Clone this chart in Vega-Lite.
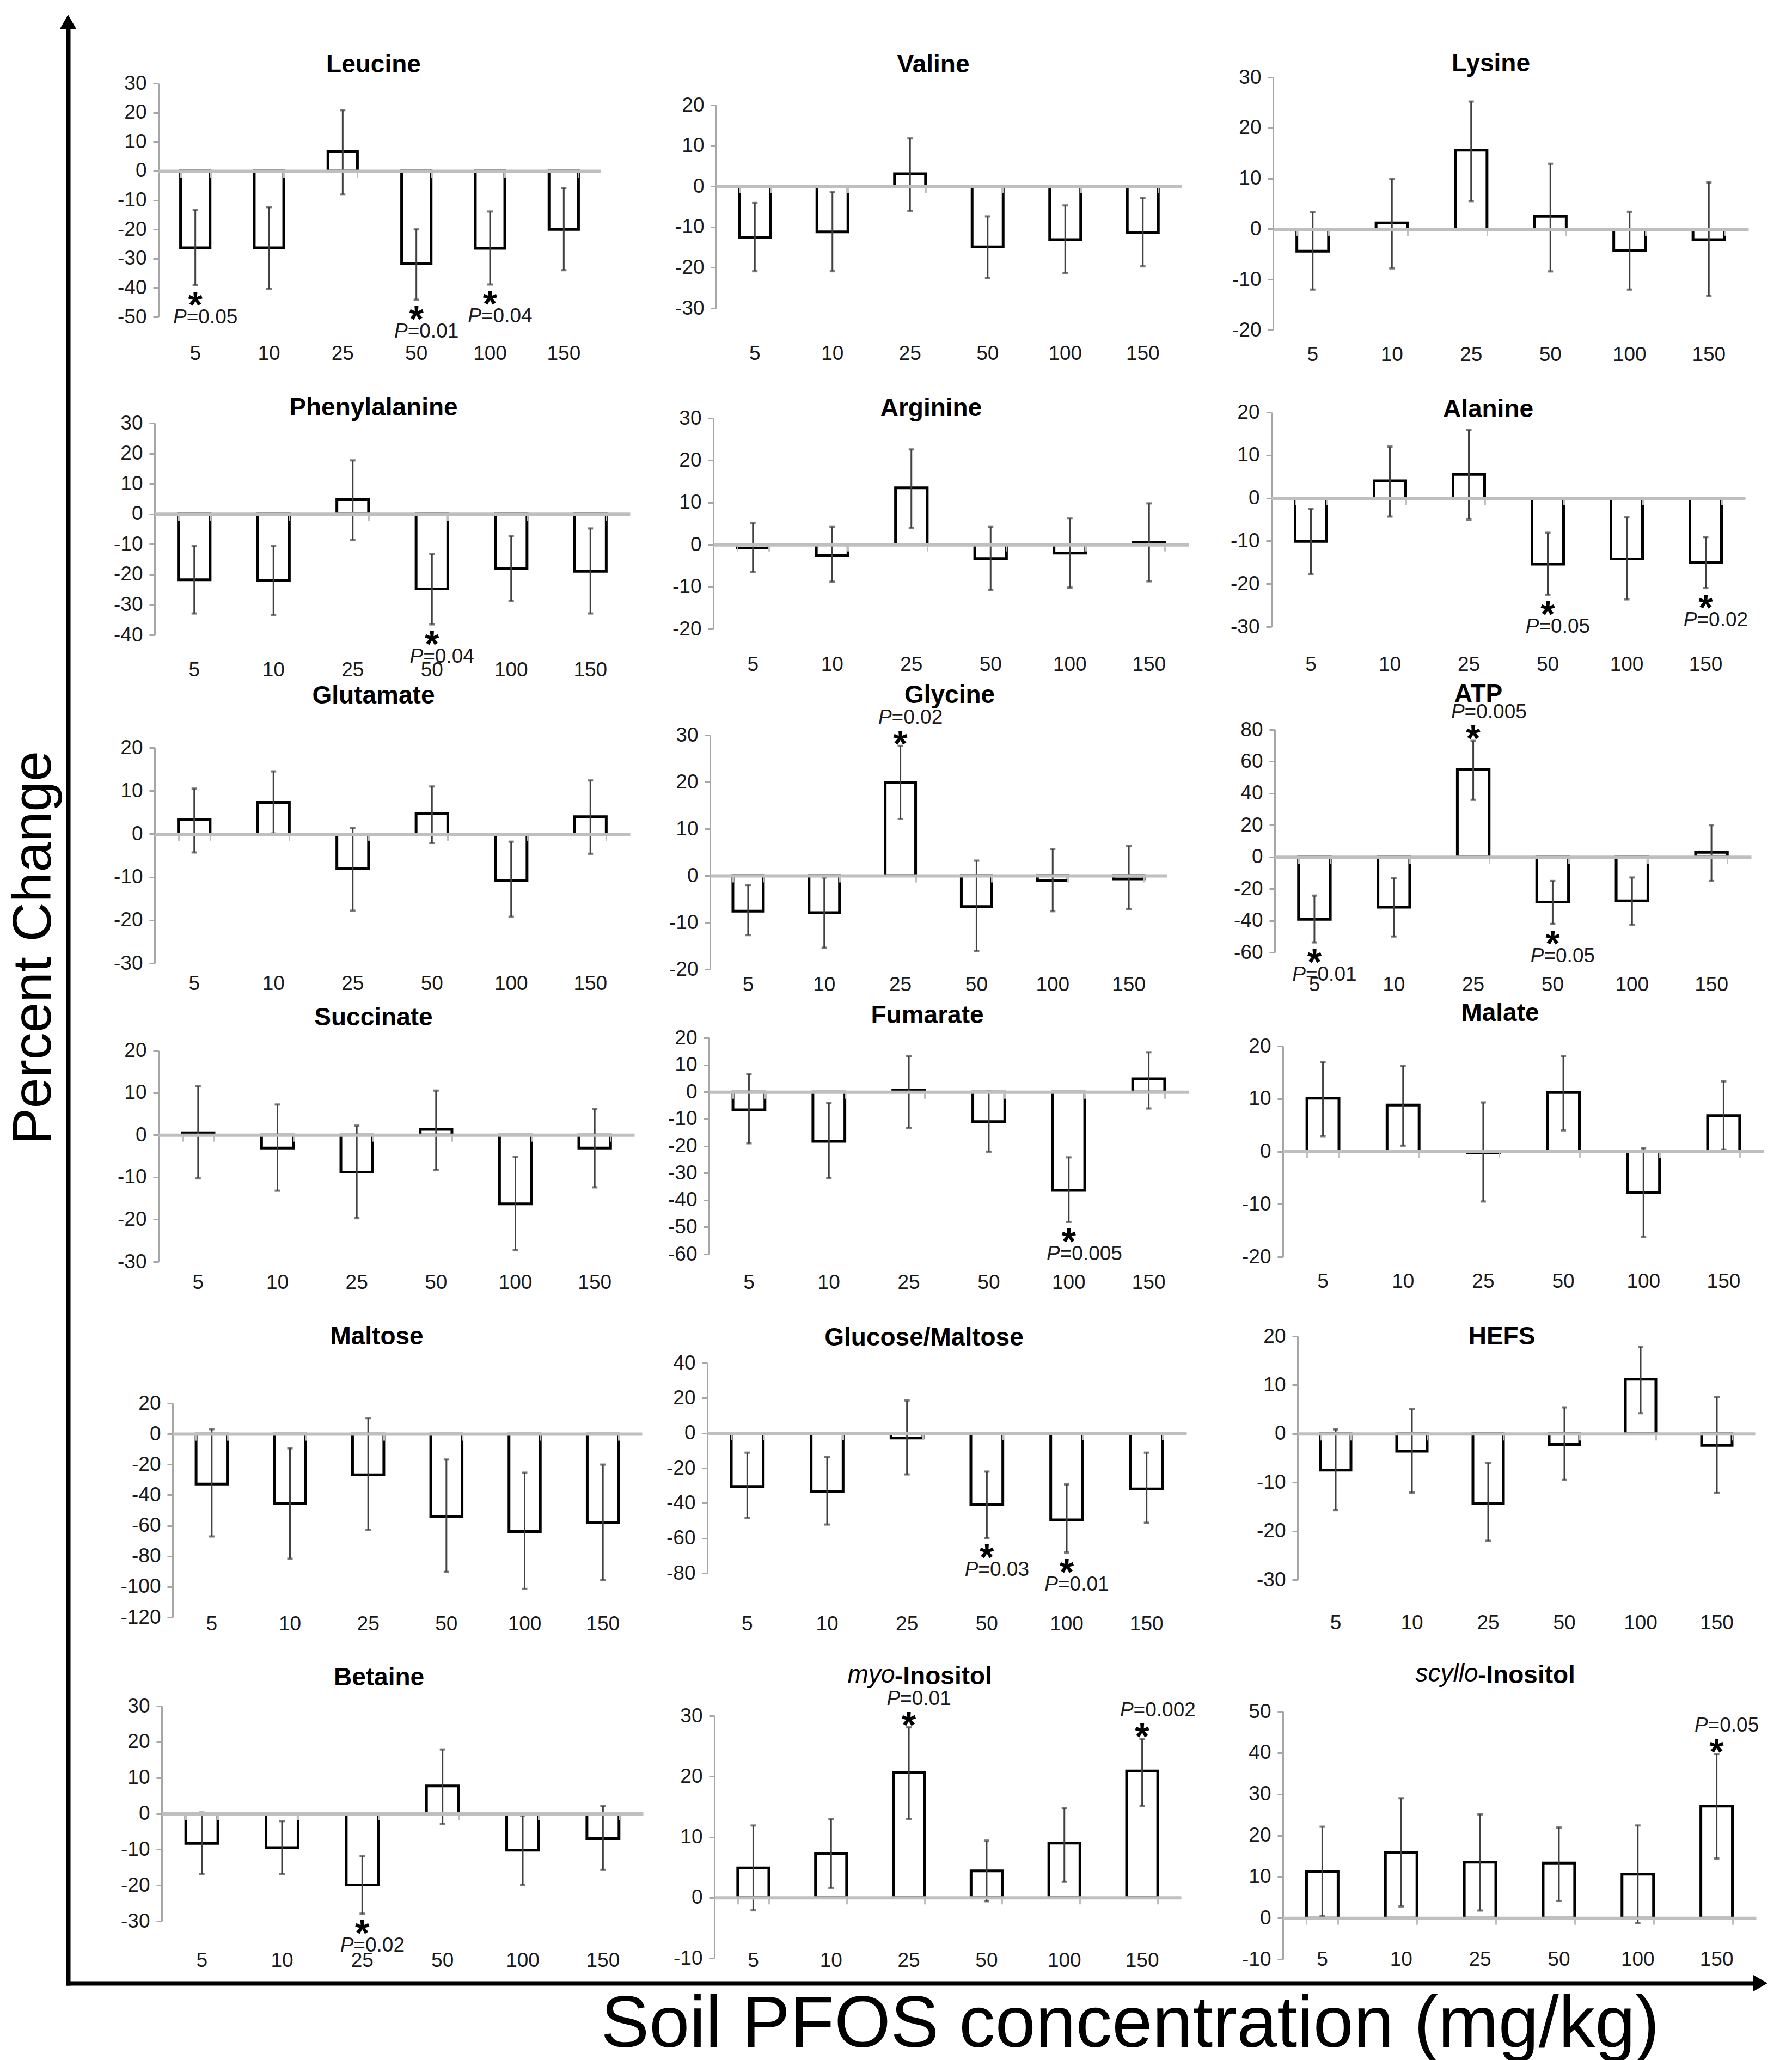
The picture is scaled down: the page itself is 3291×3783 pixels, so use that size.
{
"$schema":"https://vega.github.io/schema/vega-lite/v6.json",
"background":"white","padding":0,"spacing":0,"bounds":"flush","columns":4,"align":"each",
"config":{"view":{"stroke":null},"font":"Liberation Sans, Arial, sans-serif",
"title":{"anchor":"middle","frame":"group","font":"Liberation Sans, Arial, sans-serif","fontSize":46,"fontWeight":"bold","color":"black"},
"axisX":{"labelFont":"Liberation Sans, Arial, sans-serif","labelFontSize":37,"labelColor":"#1a1a1a","labelAngle":0,"domainColor":"#bfbfbf","domainWidth":6,"tickColor":"#bfbfbf","tickWidth":3,"tickSize":12,"grid":false,"labelOverlap":false},
"axisY":{"labelFont":"Liberation Sans, Arial, sans-serif","labelFontSize":37,"labelColor":"#1a1a1a","domainColor":"#a6a6a6","domainWidth":3,"tickColor":"#a6a6a6","tickWidth":3,"tickSize":10,"labelPadding":12,"grid":false,"labelOverlap":false}},
"datasets":{
"leu":[{"c":"5","v":-26.3,"lo":-39.1,"hi":-13.3,"p":"=0.05","d":"down"},{"c":"10","v":-26.3,"lo":-40.3,"hi":-12.4},{"c":"25","v":6.6,"lo":-8.1,"hi":20.8},{"c":"50","v":-31.8,"lo":-44.1,"hi":-20.0,"p":"=0.01","d":"down"},{"c":"100","v":-26.5,"lo":-38.9,"hi":-13.9,"p":"=0.04","d":"down"},{"c":"150","v":-20.0,"lo":-34.0,"hi":-5.8}],
"val":[{"c":"5","v":-12.5,"lo":-20.9,"hi":-4.1},{"c":"10","v":-11.2,"lo":-20.9,"hi":-1.4},{"c":"25","v":3.1,"lo":-6.0,"hi":11.8},{"c":"50","v":-14.9,"lo":-22.5,"hi":-7.4},{"c":"100","v":-13.1,"lo":-21.3,"hi":-4.7},{"c":"150","v":-11.3,"lo":-19.7,"hi":-2.8}],
"lys":[{"c":"5","v":-4.4,"lo":-12.0,"hi":3.3},{"c":"10","v":1.2,"lo":-7.8,"hi":9.9},{"c":"25","v":15.6,"lo":5.5,"hi":25.2},{"c":"50","v":2.5,"lo":-8.4,"hi":12.9},{"c":"100","v":-4.3,"lo":-12.0,"hi":3.4},{"c":"150","v":-2.1,"lo":-13.3,"hi":9.2}],
"phe":[{"c":"5","v":-21.8,"lo":-32.9,"hi":-10.5},{"c":"10","v":-22.1,"lo":-33.5,"hi":-10.5},{"c":"25","v":4.7,"lo":-8.7,"hi":17.7},{"c":"50","v":-24.8,"lo":-36.5,"hi":-13.2,"p":"=0.04","d":"down"},{"c":"100","v":-18.1,"lo":-28.7,"hi":-7.4},{"c":"150","v":-19.0,"lo":-32.9,"hi":-4.8}],
"arg":[{"c":"5","v":-0.8,"lo":-6.5,"hi":5.2},{"c":"10","v":-2.5,"lo":-8.8,"hi":4.2},{"c":"25","v":13.5,"lo":4.0,"hi":22.6},{"c":"50","v":-3.3,"lo":-10.8,"hi":4.2},{"c":"100","v":-2.0,"lo":-10.2,"hi":6.2},{"c":"150","v":0.5,"lo":-8.7,"hi":9.8}],
"ala":[{"c":"5","v":-10.1,"lo":-17.7,"hi":-2.5},{"c":"10","v":4.0,"lo":-4.3,"hi":12.0},{"c":"25","v":5.5,"lo":-5.0,"hi":15.9},{"c":"50","v":-15.4,"lo":-22.5,"hi":-8.1,"p":"=0.05","d":"down"},{"c":"100","v":-14.2,"lo":-23.6,"hi":-4.5},{"c":"150","v":-15.1,"lo":-21.0,"hi":-9.1,"p":"=0.02","d":"down"}],
"glu":[{"c":"5","v":3.4,"lo":-4.3,"hi":10.5},{"c":"10","v":7.3,"lo":0.1,"hi":14.5},{"c":"25","v":-8.1,"lo":-17.8,"hi":1.4},{"c":"50","v":4.8,"lo":-2.1,"hi":11.0},{"c":"100","v":-10.8,"lo":-19.2,"hi":-1.8},{"c":"150","v":4.0,"lo":-4.6,"hi":12.4}],
"gly":[{"c":"5","v":-7.6,"lo":-12.7,"hi":-2.0},{"c":"10","v":-7.9,"lo":-15.4,"hi":-0.4},{"c":"25","v":19.9,"lo":12.1,"hi":27.7,"p":"=0.02","d":"up"},{"c":"50","v":-6.6,"lo":-16.1,"hi":3.2},{"c":"100","v":-1.1,"lo":-7.6,"hi":5.7},{"c":"150","v":-0.7,"lo":-7.1,"hi":6.3}],
"atp":[{"c":"5","v":-39.2,"lo":-53.7,"hi":-24.3,"p":"=0.01","d":"down"},{"c":"10","v":-31.6,"lo":-50.0,"hi":-13.2},{"c":"25","v":55.0,"lo":35.9,"hi":73.0,"p":"=0.005","d":"up"},{"c":"50","v":-28.3,"lo":-42.1,"hi":-15.1,"p":"=0.05","d":"down"},{"c":"100","v":-27.6,"lo":-42.8,"hi":-12.9},{"c":"150","v":2.9,"lo":-15.1,"hi":20.0}],
"suc":[{"c":"5","v":0.5,"lo":-10.3,"hi":11.5},{"c":"10","v":-3.1,"lo":-13.2,"hi":7.2},{"c":"25","v":-8.8,"lo":-19.7,"hi":2.2},{"c":"50","v":1.3,"lo":-8.3,"hi":10.5},{"c":"100","v":-16.3,"lo":-27.3,"hi":-5.2},{"c":"150","v":-3.1,"lo":-12.4,"hi":6.1}],
"fum":[{"c":"5","v":-6.6,"lo":-19.0,"hi":6.5},{"c":"10","v":-18.3,"lo":-31.9,"hi":-4.1},{"c":"25","v":0.6,"lo":-13.3,"hi":13.2},{"c":"50","v":-11.0,"lo":-22.1,"hi":0.1},{"c":"100","v":-36.4,"lo":-48.1,"hi":-24.2,"p":"=0.005","d":"down"},{"c":"150","v":4.9,"lo":-6.1,"hi":14.7}],
"mal":[{"c":"5","v":10.1,"lo":2.9,"hi":16.9},{"c":"10","v":8.8,"lo":1.1,"hi":16.2},{"c":"25","v":-0.2,"lo":-9.5,"hi":9.3},{"c":"50","v":11.2,"lo":4.0,"hi":18.1},{"c":"100","v":-7.8,"lo":-16.2,"hi":0.6},{"c":"150","v":6.8,"lo":0.3,"hi":13.3}],
"mlt":[{"c":"5","v":-32.8,"lo":-67.1,"hi":3.1},{"c":"10","v":-45.6,"lo":-81.7,"hi":-9.4},{"c":"25","v":-26.8,"lo":-62.9,"hi":10.3},{"c":"50","v":-53.9,"lo":-90.3,"hi":-16.8},{"c":"100","v":-63.9,"lo":-101.4,"hi":-25.4},{"c":"150","v":-58.1,"lo":-95.8,"hi":-20.1}],
"gm":[{"c":"5","v":-30.5,"lo":-48.6,"hi":-11.2},{"c":"10","v":-33.5,"lo":-52.2,"hi":-13.6},{"c":"25","v":-2.8,"lo":-23.6,"hi":18.6},{"c":"50","v":-41.0,"lo":-59.8,"hi":-22.0,"p":"=0.03","d":"down"},{"c":"100","v":-49.5,"lo":-68.2,"hi":-29.3,"p":"=0.01","d":"down"},{"c":"150","v":-31.9,"lo":-51.2,"hi":-11.2}],
"hefs":[{"c":"5","v":-7.5,"lo":-15.7,"hi":0.9},{"c":"10","v":-3.6,"lo":-12.1,"hi":5.1},{"c":"25","v":-14.3,"lo":-22.0,"hi":-6.0},{"c":"50","v":-2.2,"lo":-9.5,"hi":5.4},{"c":"100","v":11.2,"lo":4.2,"hi":17.8},{"c":"150","v":-2.4,"lo":-12.2,"hi":7.5}],
"bet":[{"c":"5","v":-8.3,"lo":-16.8,"hi":0.3},{"c":"10","v":-9.5,"lo":-16.8,"hi":-2.1},{"c":"25","v":-19.9,"lo":-27.9,"hi":-11.9,"p":"=0.02","d":"down"},{"c":"50","v":7.7,"lo":-2.9,"hi":17.9},{"c":"100","v":-10.2,"lo":-19.9,"hi":-0.5},{"c":"150","v":-7.0,"lo":-15.7,"hi":2.1}],
"myo":[{"c":"5","v":4.9,"lo":-2.1,"hi":11.9},{"c":"10","v":7.3,"lo":1.6,"hi":13.0},{"c":"25","v":20.6,"lo":13.0,"hi":28.1,"p":"=0.01","d":"up"},{"c":"50","v":4.4,"lo":-0.6,"hi":9.4},{"c":"100","v":9.0,"lo":2.6,"hi":14.8},{"c":"150","v":20.9,"lo":15.1,"hi":26.2,"p":"=0.002","d":"up"}],
"scy":[{"c":"5","v":11.3,"lo":0.5,"hi":22.1},{"c":"10","v":15.9,"lo":2.8,"hi":29.0},{"c":"25","v":13.5,"lo":1.8,"hi":25.1},{"c":"50","v":13.3,"lo":4.1,"hi":21.9},{"c":"100","v":10.6,"lo":-1.3,"hi":22.4},{"c":"150","v":27.1,"lo":14.4,"hi":39.7,"p":"=0.05","d":"up"}]
},
"concat":[
{"width":1,"height":1,"data":{"values":[]},"mark":"point"},
{"width":1030,"height":700,"data":{"name":"leu"},"title":{"text":"Leucine","dx":-29,"offset":-143},
"encoding":{"x":{"field":"c","type":"ordinal","title":null,"axis":null,"scale":{"domain":["5","10","25","50","100","150"],"range":[91,903],"paddingInner":0.6,"paddingOuter":0.3}}},
"layer":[
{"mark":{"type":"bar","fill":"white","stroke":"black","strokeWidth":5},"encoding":{"x":{"field":"c","type":"ordinal","title":null,"scale":{"domain":["5","10","25","50","100","150"],"range":[91,903],"paddingInner":0.6,"paddingOuter":0.3},"axis":{"orient":"bottom","offset":-51,"domain":false,"ticks":false,"tickSize":0,"labelPadding":0,"labelBaseline":"middle"}},"y":{"field":"v","type":"quantitative","title":null,"scale":{"domain":[-50,30],"range":[582,153],"nice":false,"zero":false},"axis":{"offset":-91,"values":[-50,-40,-30,-20,-10,0,10,20,30],"labelExpr":"datum.value < 0 ? '-' + (-datum.value) : '' + datum.value"}},"y2":{"datum":0}}},
{"mark":{"type":"rule","color":"#404040","strokeWidth":3},"encoding":{"x":{"field":"c","type":"ordinal","title":null,"scale":{"domain":["5","10","25","50","100","150"],"range":[91,903],"paddingInner":0.6,"paddingOuter":0.3},"axis":{"orient":"bottom","offset":-386.1,"labels":false,"tickBand":"extent","zindex":1}},"y":{"field":"lo","type":"quantitative","title":null,"scale":{"domain":[-50,30],"range":[582,153],"nice":false,"zero":false}},"y2":{"field":"hi"}}},
{"mark":{"type":"tick","color":"#404040","size":10,"thickness":4},"encoding":{"y":{"field":"lo","type":"quantitative","title":null,"scale":{"domain":[-50,30],"range":[582,153],"nice":false,"zero":false}}}},
{"mark":{"type":"tick","color":"#404040","size":10,"thickness":4},"encoding":{"y":{"field":"hi","type":"quantitative","title":null,"scale":{"domain":[-50,30],"range":[582,153],"nice":false,"zero":false}}}},
{"transform":[{"filter":"datum.d=='down'"}],"mark":{"type":"text","text":"*","fontSize":68,"fontWeight":"bold","color":"black","baseline":"alphabetic","dy":59},"encoding":{"y":{"field":"lo","type":"quantitative","title":null,"scale":{"domain":[-50,30],"range":[582,153],"nice":false,"zero":false}}}},
{"transform":[{"filter":"datum.d=='down'"}],"mark":{"type":"text","text":"P","fontSize":37,"fontStyle":"italic","color":"#1a1a1a","align":"right","baseline":"middle","dx":-16,"dy":59},"encoding":{"y":{"field":"lo","type":"quantitative","title":null,"scale":{"domain":[-50,30],"range":[582,153],"nice":false,"zero":false}}}},
{"transform":[{"filter":"datum.d=='down'"}],"mark":{"type":"text","fontSize":37,"color":"#1a1a1a","align":"left","baseline":"middle","dx":-16,"dy":59},"encoding":{"y":{"field":"lo","type":"quantitative","title":null,"scale":{"domain":[-50,30],"range":[582,153],"nice":false,"zero":false}},"text":{"field":"p"}}}
],"resolve":{"axis":{"x":"independent"}}},
{"width":1040,"height":700,"data":{"name":"val"},"title":{"text":"Valine","dx":-36,"offset":-143},
"encoding":{"x":{"field":"c","type":"ordinal","title":null,"axis":null,"scale":{"domain":["5","10","25","50","100","150"],"range":[85,940],"paddingInner":0.6,"paddingOuter":0.3}}},
"layer":[
{"mark":{"type":"bar","fill":"white","stroke":"black","strokeWidth":5},"encoding":{"x":{"field":"c","type":"ordinal","title":null,"scale":{"domain":["5","10","25","50","100","150"],"range":[85,940],"paddingInner":0.6,"paddingOuter":0.3},"axis":{"orient":"bottom","offset":-51,"domain":false,"ticks":false,"tickSize":0,"labelPadding":0,"labelBaseline":"middle"}},"y":{"field":"v","type":"quantitative","title":null,"scale":{"domain":[-30,20],"range":[566,193],"nice":false,"zero":false},"axis":{"offset":-85,"values":[-30,-20,-10,0,10,20],"labelExpr":"datum.value < 0 ? '-' + (-datum.value) : '' + datum.value"}},"y2":{"datum":0}}},
{"mark":{"type":"rule","color":"#404040","strokeWidth":3},"encoding":{"x":{"field":"c","type":"ordinal","title":null,"scale":{"domain":["5","10","25","50","100","150"],"range":[85,940],"paddingInner":0.6,"paddingOuter":0.3},"axis":{"orient":"bottom","offset":-357.8,"labels":false,"tickBand":"extent","zindex":1}},"y":{"field":"lo","type":"quantitative","title":null,"scale":{"domain":[-30,20],"range":[566,193],"nice":false,"zero":false}},"y2":{"field":"hi"}}},
{"mark":{"type":"tick","color":"#404040","size":10,"thickness":4},"encoding":{"y":{"field":"lo","type":"quantitative","title":null,"scale":{"domain":[-30,20],"range":[566,193],"nice":false,"zero":false}}}},
{"mark":{"type":"tick","color":"#404040","size":10,"thickness":4},"encoding":{"y":{"field":"hi","type":"quantitative","title":null,"scale":{"domain":[-30,20],"range":[566,193],"nice":false,"zero":false}}}}
],"resolve":{"axis":{"x":"independent"}}},
{"width":1021,"height":700,"data":{"name":"lys"},"title":{"text":"Lysine","dx":-42.5,"offset":-141},
"encoding":{"x":{"field":"c","type":"ordinal","title":null,"axis":null,"scale":{"domain":["5","10","25","50","100","150"],"range":[68,941],"paddingInner":0.6,"paddingOuter":0.3}}},
"layer":[
{"mark":{"type":"bar","fill":"white","stroke":"black","strokeWidth":5},"encoding":{"x":{"field":"c","type":"ordinal","title":null,"scale":{"domain":["5","10","25","50","100","150"],"range":[68,941],"paddingInner":0.6,"paddingOuter":0.3},"axis":{"orient":"bottom","offset":-49,"domain":false,"ticks":false,"tickSize":0,"labelPadding":0,"labelBaseline":"middle"}},"y":{"field":"v","type":"quantitative","title":null,"scale":{"domain":[-20,30],"range":[606,142],"nice":false,"zero":false},"axis":{"offset":-68,"values":[-20,-10,0,10,20,30],"labelExpr":"datum.value < 0 ? '-' + (-datum.value) : '' + datum.value"}},"y2":{"datum":0}}},
{"mark":{"type":"rule","color":"#404040","strokeWidth":3},"encoding":{"x":{"field":"c","type":"ordinal","title":null,"scale":{"domain":["5","10","25","50","100","150"],"range":[68,941],"paddingInner":0.6,"paddingOuter":0.3},"axis":{"orient":"bottom","offset":-279.6,"labels":false,"tickBand":"extent","zindex":1}},"y":{"field":"lo","type":"quantitative","title":null,"scale":{"domain":[-20,30],"range":[606,142],"nice":false,"zero":false}},"y2":{"field":"hi"}}},
{"mark":{"type":"tick","color":"#404040","size":10,"thickness":4},"encoding":{"y":{"field":"lo","type":"quantitative","title":null,"scale":{"domain":[-20,30],"range":[606,142],"nice":false,"zero":false}}}},
{"mark":{"type":"tick","color":"#404040","size":10,"thickness":4},"encoding":{"y":{"field":"hi","type":"quantitative","title":null,"scale":{"domain":[-20,30],"range":[606,142],"nice":false,"zero":false}}}}
],"resolve":{"axis":{"x":"independent"}}},

{"width":1,"height":1,"data":{"values":[]},"mark":"point"},
{"width":1030,"height":550,"data":{"name":"phe"},"title":{"text":"Phenylalanine","dx":-29,"offset":-73},
"encoding":{"x":{"field":"c","type":"ordinal","title":null,"axis":null,"scale":{"domain":["5","10","25","50","100","150"],"range":[84,957],"paddingInner":0.6,"paddingOuter":0.3}}},
"layer":[
{"mark":{"type":"bar","fill":"white","stroke":"black","strokeWidth":5},"encoding":{"x":{"field":"c","type":"ordinal","title":null,"scale":{"domain":["5","10","25","50","100","150"],"range":[84,957],"paddingInner":0.6,"paddingOuter":0.3},"axis":{"orient":"bottom","offset":-20,"domain":false,"ticks":false,"tickSize":0,"labelPadding":0,"labelBaseline":"middle"}},"y":{"field":"v","type":"quantitative","title":null,"scale":{"domain":[-40,30],"range":[466,77],"nice":false,"zero":false},"axis":{"offset":-84,"values":[-40,-30,-20,-10,0,10,20,30],"labelExpr":"datum.value < 0 ? '-' + (-datum.value) : '' + datum.value"}},"y2":{"datum":0}}},
{"mark":{"type":"rule","color":"#404040","strokeWidth":3},"encoding":{"x":{"field":"c","type":"ordinal","title":null,"scale":{"domain":["5","10","25","50","100","150"],"range":[84,957],"paddingInner":0.6,"paddingOuter":0.3},"axis":{"orient":"bottom","offset":-306.3,"labels":false,"tickBand":"extent","zindex":1}},"y":{"field":"lo","type":"quantitative","title":null,"scale":{"domain":[-40,30],"range":[466,77],"nice":false,"zero":false}},"y2":{"field":"hi"}}},
{"mark":{"type":"tick","color":"#404040","size":10,"thickness":4},"encoding":{"y":{"field":"lo","type":"quantitative","title":null,"scale":{"domain":[-40,30],"range":[466,77],"nice":false,"zero":false}}}},
{"mark":{"type":"tick","color":"#404040","size":10,"thickness":4},"encoding":{"y":{"field":"hi","type":"quantitative","title":null,"scale":{"domain":[-40,30],"range":[466,77],"nice":false,"zero":false}}}},
{"transform":[{"filter":"datum.d=='down'"}],"mark":{"type":"text","text":"*","fontSize":68,"fontWeight":"bold","color":"black","baseline":"alphabetic","dy":59},"encoding":{"y":{"field":"lo","type":"quantitative","title":null,"scale":{"domain":[-40,30],"range":[466,77],"nice":false,"zero":false}}}},
{"transform":[{"filter":"datum.d=='down'"}],"mark":{"type":"text","text":"P","fontSize":37,"fontStyle":"italic","color":"#1a1a1a","align":"right","baseline":"middle","dx":-16,"dy":59},"encoding":{"y":{"field":"lo","type":"quantitative","title":null,"scale":{"domain":[-40,30],"range":[466,77],"nice":false,"zero":false}}}},
{"transform":[{"filter":"datum.d=='down'"}],"mark":{"type":"text","fontSize":37,"color":"#1a1a1a","align":"left","baseline":"middle","dx":-16,"dy":59},"encoding":{"y":{"field":"lo","type":"quantitative","title":null,"scale":{"domain":[-40,30],"range":[466,77],"nice":false,"zero":false}},"text":{"field":"p"}}}
],"resolve":{"axis":{"x":"independent"}}},
{"width":1040,"height":550,"data":{"name":"arg"},"title":{"text":"Arginine","dx":-40,"offset":-74},
"encoding":{"x":{"field":"c","type":"ordinal","title":null,"axis":null,"scale":{"domain":["5","10","25","50","100","150"],"range":[80,953],"paddingInner":0.6,"paddingOuter":0.3}}},
"layer":[
{"mark":{"type":"bar","fill":"white","stroke":"black","strokeWidth":5},"encoding":{"x":{"field":"c","type":"ordinal","title":null,"scale":{"domain":["5","10","25","50","100","150"],"range":[80,953],"paddingInner":0.6,"paddingOuter":0.3},"axis":{"orient":"bottom","offset":-30,"domain":false,"ticks":false,"tickSize":0,"labelPadding":0,"labelBaseline":"middle"}},"y":{"field":"v","type":"quantitative","title":null,"scale":{"domain":[-20,30],"range":[455,68],"nice":false,"zero":false},"axis":{"offset":-80,"values":[-20,-10,0,10,20,30],"labelExpr":"datum.value < 0 ? '-' + (-datum.value) : '' + datum.value"}},"y2":{"datum":0}}},
{"mark":{"type":"rule","color":"#404040","strokeWidth":3},"encoding":{"x":{"field":"c","type":"ordinal","title":null,"scale":{"domain":["5","10","25","50","100","150"],"range":[80,953],"paddingInner":0.6,"paddingOuter":0.3},"axis":{"orient":"bottom","offset":-249.8,"labels":false,"tickBand":"extent","zindex":1}},"y":{"field":"lo","type":"quantitative","title":null,"scale":{"domain":[-20,30],"range":[455,68],"nice":false,"zero":false}},"y2":{"field":"hi"}}},
{"mark":{"type":"tick","color":"#404040","size":10,"thickness":4},"encoding":{"y":{"field":"lo","type":"quantitative","title":null,"scale":{"domain":[-20,30],"range":[455,68],"nice":false,"zero":false}}}},
{"mark":{"type":"tick","color":"#404040","size":10,"thickness":4},"encoding":{"y":{"field":"hi","type":"quantitative","title":null,"scale":{"domain":[-20,30],"range":[455,68],"nice":false,"zero":false}}}}
],"resolve":{"axis":{"x":"independent"}}},
{"width":1021,"height":550,"data":{"name":"ala"},"title":{"text":"Alanine","dx":-47.5,"offset":-76},
"encoding":{"x":{"field":"c","type":"ordinal","title":null,"axis":null,"scale":{"domain":["5","10","25","50","100","150"],"range":[65,935],"paddingInner":0.6,"paddingOuter":0.3}}},
"layer":[
{"mark":{"type":"bar","fill":"white","stroke":"black","strokeWidth":5},"encoding":{"x":{"field":"c","type":"ordinal","title":null,"scale":{"domain":["5","10","25","50","100","150"],"range":[65,935],"paddingInner":0.6,"paddingOuter":0.3},"axis":{"orient":"bottom","offset":-30,"domain":false,"ticks":false,"tickSize":0,"labelPadding":0,"labelBaseline":"middle"}},"y":{"field":"v","type":"quantitative","title":null,"scale":{"domain":[-30,20],"range":[451,57],"nice":false,"zero":false},"axis":{"offset":-65,"values":[-30,-20,-10,0,10,20],"labelExpr":"datum.value < 0 ? '-' + (-datum.value) : '' + datum.value"}},"y2":{"datum":0}}},
{"mark":{"type":"rule","color":"#404040","strokeWidth":3},"encoding":{"x":{"field":"c","type":"ordinal","title":null,"scale":{"domain":["5","10","25","50","100","150"],"range":[65,935],"paddingInner":0.6,"paddingOuter":0.3},"axis":{"orient":"bottom","offset":-335.4,"labels":false,"tickBand":"extent","zindex":1}},"y":{"field":"lo","type":"quantitative","title":null,"scale":{"domain":[-30,20],"range":[451,57],"nice":false,"zero":false}},"y2":{"field":"hi"}}},
{"mark":{"type":"tick","color":"#404040","size":10,"thickness":4},"encoding":{"y":{"field":"lo","type":"quantitative","title":null,"scale":{"domain":[-30,20],"range":[451,57],"nice":false,"zero":false}}}},
{"mark":{"type":"tick","color":"#404040","size":10,"thickness":4},"encoding":{"y":{"field":"hi","type":"quantitative","title":null,"scale":{"domain":[-30,20],"range":[451,57],"nice":false,"zero":false}}}},
{"transform":[{"filter":"datum.d=='down'"}],"mark":{"type":"text","text":"*","fontSize":68,"fontWeight":"bold","color":"black","baseline":"alphabetic","dy":59},"encoding":{"y":{"field":"lo","type":"quantitative","title":null,"scale":{"domain":[-30,20],"range":[451,57],"nice":false,"zero":false}}}},
{"transform":[{"filter":"datum.d=='down'"}],"mark":{"type":"text","text":"P","fontSize":37,"fontStyle":"italic","color":"#1a1a1a","align":"right","baseline":"middle","dx":-16,"dy":59},"encoding":{"y":{"field":"lo","type":"quantitative","title":null,"scale":{"domain":[-30,20],"range":[451,57],"nice":false,"zero":false}}}},
{"transform":[{"filter":"datum.d=='down'"}],"mark":{"type":"text","fontSize":37,"color":"#1a1a1a","align":"left","baseline":"middle","dx":-16,"dy":59},"encoding":{"y":{"field":"lo","type":"quantitative","title":null,"scale":{"domain":[-30,20],"range":[451,57],"nice":false,"zero":false}},"text":{"field":"p"}}}
],"resolve":{"axis":{"x":"independent"}}},

{"width":1,"height":1,"data":{"values":[]},"mark":"point"},
{"width":1030,"height":585,"data":{"name":"glu"},"title":{"text":"Glutamate","dx":-29,"offset":-52},
"encoding":{"x":{"field":"c","type":"ordinal","title":null,"axis":null,"scale":{"domain":["5","10","25","50","100","150"],"range":[84,957],"paddingInner":0.6,"paddingOuter":0.3}}},
"layer":[
{"mark":{"type":"bar","fill":"white","stroke":"black","strokeWidth":5},"encoding":{"x":{"field":"c","type":"ordinal","title":null,"scale":{"domain":["5","10","25","50","100","150"],"range":[84,957],"paddingInner":0.6,"paddingOuter":0.3},"axis":{"orient":"bottom","offset":-29,"domain":false,"ticks":false,"tickSize":0,"labelPadding":0,"labelBaseline":"middle"}},"y":{"field":"v","type":"quantitative","title":null,"scale":{"domain":[-30,20],"range":[519,123],"nice":false,"zero":false},"axis":{"offset":-84,"values":[-30,-20,-10,0,10,20],"labelExpr":"datum.value < 0 ? '-' + (-datum.value) : '' + datum.value"}},"y2":{"datum":0}}},
{"mark":{"type":"rule","color":"#404040","strokeWidth":3},"encoding":{"x":{"field":"c","type":"ordinal","title":null,"scale":{"domain":["5","10","25","50","100","150"],"range":[84,957],"paddingInner":0.6,"paddingOuter":0.3},"axis":{"orient":"bottom","offset":-303.6,"labels":false,"tickBand":"extent","zindex":1}},"y":{"field":"lo","type":"quantitative","title":null,"scale":{"domain":[-30,20],"range":[519,123],"nice":false,"zero":false}},"y2":{"field":"hi"}}},
{"mark":{"type":"tick","color":"#404040","size":10,"thickness":4},"encoding":{"y":{"field":"lo","type":"quantitative","title":null,"scale":{"domain":[-30,20],"range":[519,123],"nice":false,"zero":false}}}},
{"mark":{"type":"tick","color":"#404040","size":10,"thickness":4},"encoding":{"y":{"field":"hi","type":"quantitative","title":null,"scale":{"domain":[-30,20],"range":[519,123],"nice":false,"zero":false}}}}
],"resolve":{"axis":{"x":"independent"}}},
{"width":1040,"height":585,"data":{"name":"gly"},"title":{"text":"Glycine","dx":-6,"offset":-51},
"encoding":{"x":{"field":"c","type":"ordinal","title":null,"axis":null,"scale":{"domain":["5","10","25","50","100","150"],"range":[74,913],"paddingInner":0.6,"paddingOuter":0.3}}},
"layer":[
{"mark":{"type":"bar","fill":"white","stroke":"black","strokeWidth":5},"encoding":{"x":{"field":"c","type":"ordinal","title":null,"scale":{"domain":["5","10","25","50","100","150"],"range":[74,913],"paddingInner":0.6,"paddingOuter":0.3},"axis":{"orient":"bottom","offset":-27,"domain":false,"ticks":false,"tickSize":0,"labelPadding":0,"labelBaseline":"middle"}},"y":{"field":"v","type":"quantitative","title":null,"scale":{"domain":[-20,30],"range":[530,100],"nice":false,"zero":false},"axis":{"offset":-74,"values":[-20,-10,0,10,20,30],"labelExpr":"datum.value < 0 ? '-' + (-datum.value) : '' + datum.value"}},"y2":{"datum":0}}},
{"mark":{"type":"rule","color":"#404040","strokeWidth":3},"encoding":{"x":{"field":"c","type":"ordinal","title":null,"scale":{"domain":["5","10","25","50","100","150"],"range":[74,913],"paddingInner":0.6,"paddingOuter":0.3},"axis":{"orient":"bottom","offset":-227,"labels":false,"tickBand":"extent","zindex":1}},"y":{"field":"lo","type":"quantitative","title":null,"scale":{"domain":[-20,30],"range":[530,100],"nice":false,"zero":false}},"y2":{"field":"hi"}}},
{"mark":{"type":"tick","color":"#404040","size":10,"thickness":4},"encoding":{"y":{"field":"lo","type":"quantitative","title":null,"scale":{"domain":[-20,30],"range":[530,100],"nice":false,"zero":false}}}},
{"mark":{"type":"tick","color":"#404040","size":10,"thickness":4},"encoding":{"y":{"field":"hi","type":"quantitative","title":null,"scale":{"domain":[-20,30],"range":[530,100],"nice":false,"zero":false}}}},
{"transform":[{"filter":"datum.d=='up'"}],"mark":{"type":"text","text":"*","fontSize":68,"fontWeight":"bold","color":"black","baseline":"alphabetic","dy":19},"encoding":{"y":{"field":"hi","type":"quantitative","title":null,"scale":{"domain":[-20,30],"range":[530,100],"nice":false,"zero":false}}}},
{"transform":[{"filter":"datum.d=='up'"}],"mark":{"type":"text","text":"P","fontSize":37,"fontStyle":"italic","color":"#1a1a1a","align":"right","baseline":"middle","dx":-16,"dy":-52},"encoding":{"y":{"field":"hi","type":"quantitative","title":null,"scale":{"domain":[-20,30],"range":[530,100],"nice":false,"zero":false}}}},
{"transform":[{"filter":"datum.d=='up'"}],"mark":{"type":"text","fontSize":37,"color":"#1a1a1a","align":"left","baseline":"middle","dx":-16,"dy":-52},"encoding":{"y":{"field":"hi","type":"quantitative","title":null,"scale":{"domain":[-20,30],"range":[530,100],"nice":false,"zero":false}},"text":{"field":"p"}}}
],"resolve":{"axis":{"x":"independent"}}},
{"width":1021,"height":585,"data":{"name":"atp"},"title":{"text":"ATP","dx":-65.5,"offset":-49},
"encoding":{"x":{"field":"c","type":"ordinal","title":null,"axis":null,"scale":{"domain":["5","10","25","50","100","150"],"range":[71,946],"paddingInner":0.6,"paddingOuter":0.3}}},
"layer":[
{"mark":{"type":"bar","fill":"white","stroke":"black","strokeWidth":5},"encoding":{"x":{"field":"c","type":"ordinal","title":null,"scale":{"domain":["5","10","25","50","100","150"],"range":[71,946],"paddingInner":0.6,"paddingOuter":0.3},"axis":{"orient":"bottom","offset":-27,"domain":false,"ticks":false,"tickSize":0,"labelPadding":0,"labelBaseline":"middle"}},"y":{"field":"v","type":"quantitative","title":null,"scale":{"domain":[-60,80],"range":[499,90],"nice":false,"zero":false},"axis":{"offset":-71,"values":[-60,-40,-20,0,20,40,60,80],"labelExpr":"datum.value < 0 ? '-' + (-datum.value) : '' + datum.value"}},"y2":{"datum":0}}},
{"mark":{"type":"rule","color":"#404040","strokeWidth":3},"encoding":{"x":{"field":"c","type":"ordinal","title":null,"scale":{"domain":["5","10","25","50","100","150"],"range":[71,946],"paddingInner":0.6,"paddingOuter":0.3},"axis":{"orient":"bottom","offset":-261.3,"labels":false,"tickBand":"extent","zindex":1}},"y":{"field":"lo","type":"quantitative","title":null,"scale":{"domain":[-60,80],"range":[499,90],"nice":false,"zero":false}},"y2":{"field":"hi"}}},
{"mark":{"type":"tick","color":"#404040","size":10,"thickness":4},"encoding":{"y":{"field":"lo","type":"quantitative","title":null,"scale":{"domain":[-60,80],"range":[499,90],"nice":false,"zero":false}}}},
{"mark":{"type":"tick","color":"#404040","size":10,"thickness":4},"encoding":{"y":{"field":"hi","type":"quantitative","title":null,"scale":{"domain":[-60,80],"range":[499,90],"nice":false,"zero":false}}}},
{"transform":[{"filter":"datum.d=='down'"}],"mark":{"type":"text","text":"*","fontSize":68,"fontWeight":"bold","color":"black","baseline":"alphabetic","dy":59},"encoding":{"y":{"field":"lo","type":"quantitative","title":null,"scale":{"domain":[-60,80],"range":[499,90],"nice":false,"zero":false}}}},
{"transform":[{"filter":"datum.d=='down'"}],"mark":{"type":"text","text":"P","fontSize":37,"fontStyle":"italic","color":"#1a1a1a","align":"right","baseline":"middle","dx":-16,"dy":59},"encoding":{"y":{"field":"lo","type":"quantitative","title":null,"scale":{"domain":[-60,80],"range":[499,90],"nice":false,"zero":false}}}},
{"transform":[{"filter":"datum.d=='down'"}],"mark":{"type":"text","fontSize":37,"color":"#1a1a1a","align":"left","baseline":"middle","dx":-16,"dy":59},"encoding":{"y":{"field":"lo","type":"quantitative","title":null,"scale":{"domain":[-60,80],"range":[499,90],"nice":false,"zero":false}},"text":{"field":"p"}}},
{"transform":[{"filter":"datum.d=='up'"}],"mark":{"type":"text","text":"*","fontSize":68,"fontWeight":"bold","color":"black","baseline":"alphabetic","dy":19},"encoding":{"y":{"field":"hi","type":"quantitative","title":null,"scale":{"domain":[-60,80],"range":[499,90],"nice":false,"zero":false}}}},
{"transform":[{"filter":"datum.d=='up'"}],"mark":{"type":"text","text":"P","fontSize":37,"fontStyle":"italic","color":"#1a1a1a","align":"right","baseline":"middle","dx":-16,"dy":-52},"encoding":{"y":{"field":"hi","type":"quantitative","title":null,"scale":{"domain":[-60,80],"range":[499,90],"nice":false,"zero":false}}}},
{"transform":[{"filter":"datum.d=='up'"}],"mark":{"type":"text","fontSize":37,"color":"#1a1a1a","align":"left","baseline":"middle","dx":-16,"dy":-52},"encoding":{"y":{"field":"hi","type":"quantitative","title":null,"scale":{"domain":[-60,80],"range":[499,90],"nice":false,"zero":false}},"text":{"field":"p"}}}
],"resolve":{"axis":{"x":"independent"}}},

{"width":1,"height":1,"data":{"values":[]},"mark":"point"},
{"width":1030,"height":575,"data":{"name":"suc"},"title":{"text":"Succinate","dx":-29,"offset":-58},
"encoding":{"x":{"field":"c","type":"ordinal","title":null,"axis":null,"scale":{"domain":["5","10","25","50","100","150"],"range":[91,965],"paddingInner":0.6,"paddingOuter":0.3}}},
"layer":[
{"mark":{"type":"bar","fill":"white","stroke":"black","strokeWidth":5},"encoding":{"x":{"field":"c","type":"ordinal","title":null,"scale":{"domain":["5","10","25","50","100","150"],"range":[91,965],"paddingInner":0.6,"paddingOuter":0.3},"axis":{"orient":"bottom","offset":-55,"domain":false,"ticks":false,"tickSize":0,"labelPadding":0,"labelBaseline":"middle"}},"y":{"field":"v","type":"quantitative","title":null,"scale":{"domain":[-30,20],"range":[482,94],"nice":false,"zero":false},"axis":{"offset":-91,"values":[-30,-20,-10,0,10,20],"labelExpr":"datum.value < 0 ? '-' + (-datum.value) : '' + datum.value"}},"y2":{"datum":0}}},
{"mark":{"type":"rule","color":"#404040","strokeWidth":3},"encoding":{"x":{"field":"c","type":"ordinal","title":null,"scale":{"domain":["5","10","25","50","100","150"],"range":[91,965],"paddingInner":0.6,"paddingOuter":0.3},"axis":{"orient":"bottom","offset":-325.8,"labels":false,"tickBand":"extent","zindex":1}},"y":{"field":"lo","type":"quantitative","title":null,"scale":{"domain":[-30,20],"range":[482,94],"nice":false,"zero":false}},"y2":{"field":"hi"}}},
{"mark":{"type":"tick","color":"#404040","size":10,"thickness":4},"encoding":{"y":{"field":"lo","type":"quantitative","title":null,"scale":{"domain":[-30,20],"range":[482,94],"nice":false,"zero":false}}}},
{"mark":{"type":"tick","color":"#404040","size":10,"thickness":4},"encoding":{"y":{"field":"hi","type":"quantitative","title":null,"scale":{"domain":[-30,20],"range":[482,94],"nice":false,"zero":false}}}}
],"resolve":{"axis":{"x":"independent"}}},
{"width":1040,"height":575,"data":{"name":"fum"},"title":{"text":"Fumarate","dx":-47,"offset":-54},
"encoding":{"x":{"field":"c","type":"ordinal","title":null,"axis":null,"scale":{"domain":["5","10","25","50","100","150"],"range":[72,953],"paddingInner":0.6,"paddingOuter":0.3}}},
"layer":[
{"mark":{"type":"bar","fill":"white","stroke":"black","strokeWidth":5},"encoding":{"x":{"field":"c","type":"ordinal","title":null,"scale":{"domain":["5","10","25","50","100","150"],"range":[72,953],"paddingInner":0.6,"paddingOuter":0.3},"axis":{"orient":"bottom","offset":-55,"domain":false,"ticks":false,"tickSize":0,"labelPadding":0,"labelBaseline":"middle"}},"y":{"field":"v","type":"quantitative","title":null,"scale":{"domain":[-60,20],"range":[468,71],"nice":false,"zero":false},"axis":{"offset":-72,"values":[-60,-50,-40,-30,-20,-10,0,10,20],"labelExpr":"datum.value < 0 ? '-' + (-datum.value) : '' + datum.value"}},"y2":{"datum":0}}},
{"mark":{"type":"rule","color":"#404040","strokeWidth":3},"encoding":{"x":{"field":"c","type":"ordinal","title":null,"scale":{"domain":["5","10","25","50","100","150"],"range":[72,953],"paddingInner":0.6,"paddingOuter":0.3},"axis":{"orient":"bottom","offset":-404.75,"labels":false,"tickBand":"extent","zindex":1}},"y":{"field":"lo","type":"quantitative","title":null,"scale":{"domain":[-60,20],"range":[468,71],"nice":false,"zero":false}},"y2":{"field":"hi"}}},
{"mark":{"type":"tick","color":"#404040","size":10,"thickness":4},"encoding":{"y":{"field":"lo","type":"quantitative","title":null,"scale":{"domain":[-60,20],"range":[468,71],"nice":false,"zero":false}}}},
{"mark":{"type":"tick","color":"#404040","size":10,"thickness":4},"encoding":{"y":{"field":"hi","type":"quantitative","title":null,"scale":{"domain":[-60,20],"range":[468,71],"nice":false,"zero":false}}}},
{"transform":[{"filter":"datum.d=='down'"}],"mark":{"type":"text","text":"*","fontSize":68,"fontWeight":"bold","color":"black","baseline":"alphabetic","dy":59},"encoding":{"y":{"field":"lo","type":"quantitative","title":null,"scale":{"domain":[-60,20],"range":[468,71],"nice":false,"zero":false}}}},
{"transform":[{"filter":"datum.d=='down'"}],"mark":{"type":"text","text":"P","fontSize":37,"fontStyle":"italic","color":"#1a1a1a","align":"right","baseline":"middle","dx":-16,"dy":59},"encoding":{"y":{"field":"lo","type":"quantitative","title":null,"scale":{"domain":[-60,20],"range":[468,71],"nice":false,"zero":false}}}},
{"transform":[{"filter":"datum.d=='down'"}],"mark":{"type":"text","fontSize":37,"color":"#1a1a1a","align":"left","baseline":"middle","dx":-16,"dy":59},"encoding":{"y":{"field":"lo","type":"quantitative","title":null,"scale":{"domain":[-60,20],"range":[468,71],"nice":false,"zero":false}},"text":{"field":"p"}}}
],"resolve":{"axis":{"x":"independent"}}},
{"width":1021,"height":575,"data":{"name":"mal"},"title":{"text":"Malate","dx":-25.5,"offset":-50},
"encoding":{"x":{"field":"c","type":"ordinal","title":null,"axis":null,"scale":{"domain":["5","10","25","50","100","150"],"range":[86,969],"paddingInner":0.6,"paddingOuter":0.3}}},
"layer":[
{"mark":{"type":"bar","fill":"white","stroke":"black","strokeWidth":5},"encoding":{"x":{"field":"c","type":"ordinal","title":null,"scale":{"domain":["5","10","25","50","100","150"],"range":[86,969],"paddingInner":0.6,"paddingOuter":0.3},"axis":{"orient":"bottom","offset":-57,"domain":false,"ticks":false,"tickSize":0,"labelPadding":0,"labelBaseline":"middle"}},"y":{"field":"v","type":"quantitative","title":null,"scale":{"domain":[-20,20],"range":[473,86],"nice":false,"zero":false},"axis":{"offset":-86,"values":[-20,-10,0,10,20],"labelExpr":"datum.value < 0 ? '-' + (-datum.value) : '' + datum.value"}},"y2":{"datum":0}}},
{"mark":{"type":"rule","color":"#404040","strokeWidth":3},"encoding":{"x":{"field":"c","type":"ordinal","title":null,"scale":{"domain":["5","10","25","50","100","150"],"range":[86,969],"paddingInner":0.6,"paddingOuter":0.3},"axis":{"orient":"bottom","offset":-295.5,"labels":false,"tickBand":"extent","zindex":1}},"y":{"field":"lo","type":"quantitative","title":null,"scale":{"domain":[-20,20],"range":[473,86],"nice":false,"zero":false}},"y2":{"field":"hi"}}},
{"mark":{"type":"tick","color":"#404040","size":10,"thickness":4},"encoding":{"y":{"field":"lo","type":"quantitative","title":null,"scale":{"domain":[-20,20],"range":[473,86],"nice":false,"zero":false}}}},
{"mark":{"type":"tick","color":"#404040","size":10,"thickness":4},"encoding":{"y":{"field":"hi","type":"quantitative","title":null,"scale":{"domain":[-20,20],"range":[473,86],"nice":false,"zero":false}}}}
],"resolve":{"axis":{"x":"independent"}}},

{"width":1,"height":1,"data":{"values":[]},"mark":"point"},
{"width":1030,"height":620,"data":{"name":"mlt"},"title":{"text":"Maltose","dx":-23,"offset":-69},
"encoding":{"x":{"field":"c","type":"ordinal","title":null,"axis":null,"scale":{"domain":["5","10","25","50","100","150"],"range":[117,979],"paddingInner":0.6,"paddingOuter":0.3}}},
"layer":[
{"mark":{"type":"bar","fill":"white","stroke":"black","strokeWidth":5},"encoding":{"x":{"field":"c","type":"ordinal","title":null,"scale":{"domain":["5","10","25","50","100","150"],"range":[117,979],"paddingInner":0.6,"paddingOuter":0.3},"axis":{"orient":"bottom","offset":-48,"domain":false,"ticks":false,"tickSize":0,"labelPadding":0,"labelBaseline":"middle"}},"y":{"field":"v","type":"quantitative","title":null,"scale":{"domain":[-120,20],"range":[560,167],"nice":false,"zero":false},"axis":{"offset":-117,"values":[-120,-100,-80,-60,-40,-20,0,20],"labelExpr":"datum.value < 0 ? '-' + (-datum.value) : '' + datum.value"}},"y2":{"datum":0}}},
{"mark":{"type":"rule","color":"#404040","strokeWidth":3},"encoding":{"x":{"field":"c","type":"ordinal","title":null,"scale":{"domain":["5","10","25","50","100","150"],"range":[117,979],"paddingInner":0.6,"paddingOuter":0.3},"axis":{"orient":"bottom","offset":-396.9,"labels":false,"tickBand":"extent","zindex":1}},"y":{"field":"lo","type":"quantitative","title":null,"scale":{"domain":[-120,20],"range":[560,167],"nice":false,"zero":false}},"y2":{"field":"hi"}}},
{"mark":{"type":"tick","color":"#404040","size":10,"thickness":4},"encoding":{"y":{"field":"lo","type":"quantitative","title":null,"scale":{"domain":[-120,20],"range":[560,167],"nice":false,"zero":false}}}},
{"mark":{"type":"tick","color":"#404040","size":10,"thickness":4},"encoding":{"y":{"field":"hi","type":"quantitative","title":null,"scale":{"domain":[-120,20],"range":[560,167],"nice":false,"zero":false}}}}
],"resolve":{"axis":{"x":"independent"}}},
{"width":1040,"height":620,"data":{"name":"gm"},"title":{"text":"Glucose/Maltose","dx":-53,"offset":-71},
"encoding":{"x":{"field":"c","type":"ordinal","title":null,"axis":null,"scale":{"domain":["5","10","25","50","100","150"],"range":[69,949],"paddingInner":0.6,"paddingOuter":0.3}}},
"layer":[
{"mark":{"type":"bar","fill":"white","stroke":"black","strokeWidth":5},"encoding":{"x":{"field":"c","type":"ordinal","title":null,"scale":{"domain":["5","10","25","50","100","150"],"range":[69,949],"paddingInner":0.6,"paddingOuter":0.3},"axis":{"orient":"bottom","offset":-48,"domain":false,"ticks":false,"tickSize":0,"labelPadding":0,"labelBaseline":"middle"}},"y":{"field":"v","type":"quantitative","title":null,"scale":{"domain":[-80,40],"range":[479,93],"nice":false,"zero":false},"axis":{"offset":-69,"values":[-80,-60,-40,-20,0,20,40],"labelExpr":"datum.value < 0 ? '-' + (-datum.value) : '' + datum.value"}},"y2":{"datum":0}}},
{"mark":{"type":"rule","color":"#404040","strokeWidth":3},"encoding":{"x":{"field":"c","type":"ordinal","title":null,"scale":{"domain":["5","10","25","50","100","150"],"range":[69,949],"paddingInner":0.6,"paddingOuter":0.3},"axis":{"orient":"bottom","offset":-398.3,"labels":false,"tickBand":"extent","zindex":1}},"y":{"field":"lo","type":"quantitative","title":null,"scale":{"domain":[-80,40],"range":[479,93],"nice":false,"zero":false}},"y2":{"field":"hi"}}},
{"mark":{"type":"tick","color":"#404040","size":10,"thickness":4},"encoding":{"y":{"field":"lo","type":"quantitative","title":null,"scale":{"domain":[-80,40],"range":[479,93],"nice":false,"zero":false}}}},
{"mark":{"type":"tick","color":"#404040","size":10,"thickness":4},"encoding":{"y":{"field":"hi","type":"quantitative","title":null,"scale":{"domain":[-80,40],"range":[479,93],"nice":false,"zero":false}}}},
{"transform":[{"filter":"datum.d=='down'"}],"mark":{"type":"text","text":"*","fontSize":68,"fontWeight":"bold","color":"black","baseline":"alphabetic","dy":59},"encoding":{"y":{"field":"lo","type":"quantitative","title":null,"scale":{"domain":[-80,40],"range":[479,93],"nice":false,"zero":false}}}},
{"transform":[{"filter":"datum.d=='down'"}],"mark":{"type":"text","text":"P","fontSize":37,"fontStyle":"italic","color":"#1a1a1a","align":"right","baseline":"middle","dx":-16,"dy":59},"encoding":{"y":{"field":"lo","type":"quantitative","title":null,"scale":{"domain":[-80,40],"range":[479,93],"nice":false,"zero":false}}}},
{"transform":[{"filter":"datum.d=='down'"}],"mark":{"type":"text","fontSize":37,"color":"#1a1a1a","align":"left","baseline":"middle","dx":-16,"dy":59},"encoding":{"y":{"field":"lo","type":"quantitative","title":null,"scale":{"domain":[-80,40],"range":[479,93],"nice":false,"zero":false}},"text":{"field":"p"}}}
],"resolve":{"axis":{"x":"independent"}}},
{"width":1021,"height":620,"data":{"name":"hefs"},"title":{"text":"HEFS","dx":-22.5,"offset":-69},
"encoding":{"x":{"field":"c","type":"ordinal","title":null,"axis":null,"scale":{"domain":["5","10","25","50","100","150"],"range":[113,953],"paddingInner":0.6,"paddingOuter":0.3}}},
"layer":[
{"mark":{"type":"bar","fill":"white","stroke":"black","strokeWidth":5},"encoding":{"x":{"field":"c","type":"ordinal","title":null,"scale":{"domain":["5","10","25","50","100","150"],"range":[113,953],"paddingInner":0.6,"paddingOuter":0.3},"axis":{"orient":"bottom","offset":-50,"domain":false,"ticks":false,"tickSize":0,"labelPadding":0,"labelBaseline":"middle"}},"y":{"field":"v","type":"quantitative","title":null,"scale":{"domain":[-30,20],"range":[491,44],"nice":false,"zero":false},"axis":{"offset":-113,"values":[-30,-20,-10,0,10,20],"labelExpr":"datum.value < 0 ? '-' + (-datum.value) : '' + datum.value"}},"y2":{"datum":0}}},
{"mark":{"type":"rule","color":"#404040","strokeWidth":3},"encoding":{"x":{"field":"c","type":"ordinal","title":null,"scale":{"domain":["5","10","25","50","100","150"],"range":[113,953],"paddingInner":0.6,"paddingOuter":0.3},"axis":{"orient":"bottom","offset":-397.2,"labels":false,"tickBand":"extent","zindex":1}},"y":{"field":"lo","type":"quantitative","title":null,"scale":{"domain":[-30,20],"range":[491,44],"nice":false,"zero":false}},"y2":{"field":"hi"}}},
{"mark":{"type":"tick","color":"#404040","size":10,"thickness":4},"encoding":{"y":{"field":"lo","type":"quantitative","title":null,"scale":{"domain":[-30,20],"range":[491,44],"nice":false,"zero":false}}}},
{"mark":{"type":"tick","color":"#404040","size":10,"thickness":4},"encoding":{"y":{"field":"hi","type":"quantitative","title":null,"scale":{"domain":[-30,20],"range":[491,44],"nice":false,"zero":false}}}}
],"resolve":{"axis":{"x":"independent"}}},

{"width":1,"height":1,"data":{"values":[]},"mark":"point"},
{"width":1030,"height":608,"data":{"name":"bet"},"title":{"text":"Betaine","dx":-19,"offset":-75},
"encoding":{"x":{"field":"c","type":"ordinal","title":null,"axis":null,"scale":{"domain":["5","10","25","50","100","150"],"range":[97,981],"paddingInner":0.6,"paddingOuter":0.3}}},
"layer":[
{"mark":{"type":"bar","fill":"white","stroke":"black","strokeWidth":5},"encoding":{"x":{"field":"c","type":"ordinal","title":null,"scale":{"domain":["5","10","25","50","100","150"],"range":[97,981],"paddingInner":0.6,"paddingOuter":0.3},"axis":{"orient":"bottom","offset":-38,"domain":false,"ticks":false,"tickSize":0,"labelPadding":0,"labelBaseline":"middle"}},"y":{"field":"v","type":"quantitative","title":null,"scale":{"domain":[-30,30],"range":[498,103],"nice":false,"zero":false},"axis":{"offset":-97,"values":[-30,-20,-10,0,10,20,30],"labelExpr":"datum.value < 0 ? '-' + (-datum.value) : '' + datum.value"}},"y2":{"datum":0}}},
{"mark":{"type":"rule","color":"#404040","strokeWidth":3},"encoding":{"x":{"field":"c","type":"ordinal","title":null,"scale":{"domain":["5","10","25","50","100","150"],"range":[97,981],"paddingInner":0.6,"paddingOuter":0.3},"axis":{"orient":"bottom","offset":-307.5,"labels":false,"tickBand":"extent","zindex":1}},"y":{"field":"lo","type":"quantitative","title":null,"scale":{"domain":[-30,30],"range":[498,103],"nice":false,"zero":false}},"y2":{"field":"hi"}}},
{"mark":{"type":"tick","color":"#404040","size":10,"thickness":4},"encoding":{"y":{"field":"lo","type":"quantitative","title":null,"scale":{"domain":[-30,30],"range":[498,103],"nice":false,"zero":false}}}},
{"mark":{"type":"tick","color":"#404040","size":10,"thickness":4},"encoding":{"y":{"field":"hi","type":"quantitative","title":null,"scale":{"domain":[-30,30],"range":[498,103],"nice":false,"zero":false}}}},
{"transform":[{"filter":"datum.d=='down'"}],"mark":{"type":"text","text":"*","fontSize":68,"fontWeight":"bold","color":"black","baseline":"alphabetic","dy":59},"encoding":{"y":{"field":"lo","type":"quantitative","title":null,"scale":{"domain":[-30,30],"range":[498,103],"nice":false,"zero":false}}}},
{"transform":[{"filter":"datum.d=='down'"}],"mark":{"type":"text","text":"P","fontSize":37,"fontStyle":"italic","color":"#1a1a1a","align":"right","baseline":"middle","dx":-16,"dy":59},"encoding":{"y":{"field":"lo","type":"quantitative","title":null,"scale":{"domain":[-30,30],"range":[498,103],"nice":false,"zero":false}}}},
{"transform":[{"filter":"datum.d=='down'"}],"mark":{"type":"text","fontSize":37,"color":"#1a1a1a","align":"left","baseline":"middle","dx":-16,"dy":59},"encoding":{"y":{"field":"lo","type":"quantitative","title":null,"scale":{"domain":[-30,30],"range":[498,103],"nice":false,"zero":false}},"text":{"field":"p"}}}
],"resolve":{"axis":{"x":"independent"}}},
{"width":1040,"height":608,"data":{"name":"myo"},"title":{"text":"-Inositol","anchor":"start","dx":413,"offset":-73},
"encoding":{"x":{"field":"c","type":"ordinal","title":null,"axis":null,"scale":{"domain":["5","10","25","50","100","150"],"range":[82,939],"paddingInner":0.6,"paddingOuter":0.3}}},
"layer":[
{"mark":{"type":"bar","fill":"white","stroke":"black","strokeWidth":5},"encoding":{"x":{"field":"c","type":"ordinal","title":null,"scale":{"domain":["5","10","25","50","100","150"],"range":[82,939],"paddingInner":0.6,"paddingOuter":0.3},"axis":{"orient":"bottom","offset":-38,"domain":false,"ticks":false,"tickSize":0,"labelPadding":0,"labelBaseline":"middle"}},"y":{"field":"v","type":"quantitative","title":null,"scale":{"domain":[-10,30],"range":[566,121],"nice":false,"zero":false},"axis":{"offset":-82,"values":[-10,0,10,20,30],"labelExpr":"datum.value < 0 ? '-' + (-datum.value) : '' + datum.value"}},"y2":{"datum":0}}},
{"mark":{"type":"rule","color":"#404040","strokeWidth":3},"encoding":{"x":{"field":"c","type":"ordinal","scale":{"domain":["5","10","25","50","100","150"],"range":[82,939],"paddingInner":0.6,"paddingOuter":0.3},"axis":{"orient":"bottom","offset":-153.25,"labels":false,"tickBand":"extent","zindex":1,"title":"myo","titleX":413,"titleY":-409.75,"titleAlign":"right","titleBaseline":"middle","titleAngle":0,"titleFontStyle":"italic","titleFontWeight":"normal","titleFontSize":46,"titleFont":"Liberation Sans, Arial, sans-serif","titleColor":"black"}},"y":{"field":"lo","type":"quantitative","title":null,"scale":{"domain":[-10,30],"range":[566,121],"nice":false,"zero":false}},"y2":{"field":"hi"}}},
{"mark":{"type":"tick","color":"#404040","size":10,"thickness":4},"encoding":{"y":{"field":"lo","type":"quantitative","title":null,"scale":{"domain":[-10,30],"range":[566,121],"nice":false,"zero":false}}}},
{"mark":{"type":"tick","color":"#404040","size":10,"thickness":4},"encoding":{"y":{"field":"hi","type":"quantitative","title":null,"scale":{"domain":[-10,30],"range":[566,121],"nice":false,"zero":false}}}},
{"transform":[{"filter":"datum.d=='up'"}],"mark":{"type":"text","text":"*","fontSize":68,"fontWeight":"bold","color":"black","baseline":"alphabetic","dy":19},"encoding":{"y":{"field":"hi","type":"quantitative","title":null,"scale":{"domain":[-10,30],"range":[566,121],"nice":false,"zero":false}}}},
{"transform":[{"filter":"datum.d=='up'"}],"mark":{"type":"text","text":"P","fontSize":37,"fontStyle":"italic","color":"#1a1a1a","align":"right","baseline":"middle","dx":-16,"dy":-52},"encoding":{"y":{"field":"hi","type":"quantitative","title":null,"scale":{"domain":[-10,30],"range":[566,121],"nice":false,"zero":false}}}},
{"transform":[{"filter":"datum.d=='up'"}],"mark":{"type":"text","fontSize":37,"color":"#1a1a1a","align":"left","baseline":"middle","dx":-16,"dy":-52},"encoding":{"y":{"field":"hi","type":"quantitative","title":null,"scale":{"domain":[-10,30],"range":[566,121],"nice":false,"zero":false}},"text":{"field":"p"}}}
],"resolve":{"axis":{"x":"independent"}}},
{"width":1021,"height":608,"data":{"name":"scy"},"title":{"text":"-Inositol","anchor":"start","dx":444,"offset":-71},
"encoding":{"x":{"field":"c","type":"ordinal","title":null,"axis":null,"scale":{"domain":["5","10","25","50","100","150"],"range":[86,955],"paddingInner":0.6,"paddingOuter":0.3}}},
"layer":[
{"mark":{"type":"bar","fill":"white","stroke":"black","strokeWidth":5},"encoding":{"x":{"field":"c","type":"ordinal","title":null,"scale":{"domain":["5","10","25","50","100","150"],"range":[86,955],"paddingInner":0.6,"paddingOuter":0.3},"axis":{"orient":"bottom","offset":-40,"domain":false,"ticks":false,"tickSize":0,"labelPadding":0,"labelBaseline":"middle"}},"y":{"field":"v","type":"quantitative","title":null,"scale":{"domain":[-10,50],"range":[568,113],"nice":false,"zero":false},"axis":{"offset":-86,"values":[-10,0,10,20,30,40,50],"labelExpr":"datum.value < 0 ? '-' + (-datum.value) : '' + datum.value"}},"y2":{"datum":0}}},
{"mark":{"type":"rule","color":"#404040","strokeWidth":3},"encoding":{"x":{"field":"c","type":"ordinal","scale":{"domain":["5","10","25","50","100","150"],"range":[86,955],"paddingInner":0.6,"paddingOuter":0.3},"axis":{"orient":"bottom","offset":-115.8,"labels":false,"tickBand":"extent","zindex":1,"title":"scyllo","titleX":444,"titleY":-449.2,"titleAlign":"right","titleBaseline":"middle","titleAngle":0,"titleFontStyle":"italic","titleFontWeight":"normal","titleFontSize":46,"titleFont":"Liberation Sans, Arial, sans-serif","titleColor":"black"}},"y":{"field":"lo","type":"quantitative","title":null,"scale":{"domain":[-10,50],"range":[568,113],"nice":false,"zero":false}},"y2":{"field":"hi"}}},
{"mark":{"type":"tick","color":"#404040","size":10,"thickness":4},"encoding":{"y":{"field":"lo","type":"quantitative","title":null,"scale":{"domain":[-10,50],"range":[568,113],"nice":false,"zero":false}}}},
{"mark":{"type":"tick","color":"#404040","size":10,"thickness":4},"encoding":{"y":{"field":"hi","type":"quantitative","title":null,"scale":{"domain":[-10,50],"range":[568,113],"nice":false,"zero":false}}}},
{"transform":[{"filter":"datum.d=='up'"}],"mark":{"type":"text","text":"*","fontSize":68,"fontWeight":"bold","color":"black","baseline":"alphabetic","dy":19},"encoding":{"y":{"field":"hi","type":"quantitative","title":null,"scale":{"domain":[-10,50],"range":[568,113],"nice":false,"zero":false}}}},
{"transform":[{"filter":"datum.d=='up'"}],"mark":{"type":"text","text":"P","fontSize":37,"fontStyle":"italic","color":"#1a1a1a","align":"right","baseline":"middle","dx":-16,"dy":-52},"encoding":{"y":{"field":"hi","type":"quantitative","title":null,"scale":{"domain":[-10,50],"range":[568,113],"nice":false,"zero":false}}}},
{"transform":[{"filter":"datum.d=='up'"}],"mark":{"type":"text","fontSize":37,"color":"#1a1a1a","align":"left","baseline":"middle","dx":-16,"dy":-52},"encoding":{"y":{"field":"hi","type":"quantitative","title":null,"scale":{"domain":[-10,50],"range":[568,113],"nice":false,"zero":false}},"text":{"field":"p"}}}
],"resolve":{"axis":{"x":"independent"}}},

{"width":200,"height":145,"data":{"values":[{}]},
"layer":[
{"mark":{"type":"point","shape":"triangle-up","filled":true,"color":"black","size":900,"opacity":1},"encoding":{
"x":{"datum":0,"type":"quantitative","scale":{"domain":[0,1],"range":[125,3233],"nice":false,"zero":false},"axis":{"orient":"bottom","offset":-141,"domainColor":"black","domainWidth":8,"domainCap":"square","ticks":false,"labels":false,"title":"Soil PFOS concentration (mg/kg)","titleFont":"Liberation Sans, Arial, sans-serif","titleFontSize":133,"titleFontWeight":"normal","titleColor":"black","titleX":2075,"titleY":116,"titleBaseline":"alphabetic","titleAlign":"center"}},
"y":{"datum":1,"type":"quantitative","scale":{"domain":[0,1],"range":[4,-3598],"nice":false,"zero":false},"axis":{"orient":"left","offset":-125,"domainColor":"black","domainWidth":8,"domainCap":"square","ticks":false,"labels":false,"title":"Percent Change","titleFont":"Liberation Sans, Arial, sans-serif","titleFontSize":100,"titleFontWeight":"normal","titleColor":"black","titleX":-63,"titleY":-1898,"titleAngle":270,"titleAlign":"center","titleBaseline":"middle"}}}},
{"mark":{"type":"point","shape":"triangle-right","filled":true,"color":"black","size":900,"opacity":1},"encoding":{
"x":{"datum":1,"type":"quantitative","scale":{"domain":[0,1],"range":[125,3233],"nice":false,"zero":false},"axis":{"orient":"bottom","offset":-141,"domainColor":"black","domainWidth":8,"domainCap":"square","ticks":false,"labels":false,"title":"Soil PFOS concentration (mg/kg)","titleFont":"Liberation Sans, Arial, sans-serif","titleFontSize":133,"titleFontWeight":"normal","titleColor":"black","titleX":2075,"titleY":116,"titleBaseline":"alphabetic","titleAlign":"center"}},
"y":{"datum":0,"type":"quantitative","scale":{"domain":[0,1],"range":[4,-3598],"nice":false,"zero":false},"axis":{"orient":"left","offset":-125,"domainColor":"black","domainWidth":8,"domainCap":"square","ticks":false,"labels":false,"title":"Percent Change","titleFont":"Liberation Sans, Arial, sans-serif","titleFontSize":100,"titleFontWeight":"normal","titleColor":"black","titleX":-63,"titleY":-1898,"titleAngle":270,"titleAlign":"center","titleBaseline":"middle"}}}}
]},
{"width":1,"height":1,"data":{"values":[]},"mark":"point"},
{"width":1,"height":1,"data":{"values":[]},"mark":"point"},
{"width":1,"height":1,"data":{"values":[]},"mark":"point"}
]
}
